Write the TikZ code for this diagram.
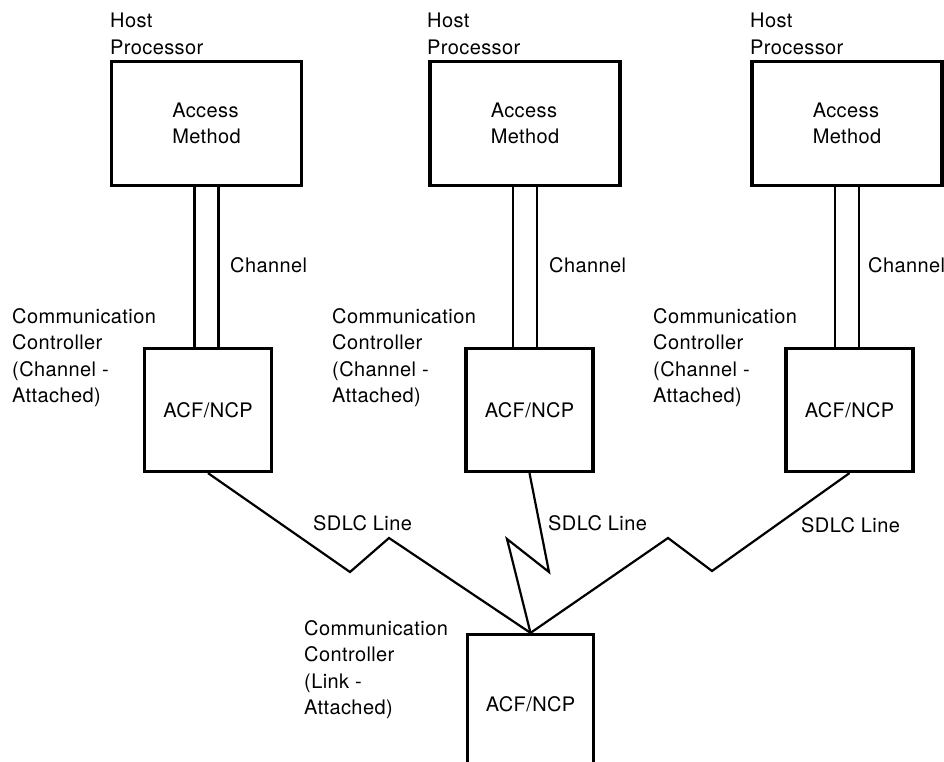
\documentclass[tikz,border=0pt]{standalone}
\usepackage{fontspec}
\setmainfont{TeX Gyre Heros}[LetterSpace=2]
\usetikzlibrary{calc,backgrounds}

\begin{document}
\begin{tikzpicture}[x=1pt,y=-1pt,
  font=\fontsize{20}{26.5}\selectfont,
  hostbox/.style={draw, line width=3.2pt, minimum width=190pt, minimum height=124pt, align=left, inner sep=0pt},
  ncpbox/.style={draw, line width=3.2pt, minimum width=127pt, minimum height=123pt, inner sep=0pt},
  lbl/.style={anchor=north west, align=left, inner sep=0pt},
  sdlc/.style={line width=2.2pt, line join=miter},
  chan/.style={double, double distance=21.5pt, line width=2.3pt}]
\useasboundingbox (0,0) rectangle (944,762);

\node[hostbox] (hostA) at (206.5,123.5) {Access\\Method};
\node[hostbox] (hostB) at (525,123.5) {Access\\Method};
\node[hostbox] (hostC) at (847,123.5) {Access\\Method};
\node[lbl] (hostlblA) at (110,13) {Host\\Processor};
\node[lbl] (hostlblB) at (427,13) {Host\\Processor};
\node[lbl] (hostlblC) at (750,13) {Host\\Processor};

\node[ncpbox] (ncpA) at (208,410) {ACF/NCP};
\node[ncpbox] (ncpB) at (529.5,410) {ACF/NCP};
\node[ncpbox] (ncpC) at (849.5,410) {ACF/NCP};
\node[lbl] (cclblA) at (12,308) {Communication\\Controller\\(Channel -\\Attached)};
\node[lbl] (cclblB) at (332,308) {Communication\\Controller\\(Channel -\\Attached)};
\node[lbl] (cclblC) at (653,308) {Communication\\Controller\\(Channel -\\Attached)};

\begin{scope}[on background layer]
\draw[chan] (hostA.south) -- (hostA.south |- ncpA.north);
\draw[chan] (hostB.south) -- (hostB.south |- ncpB.north);
\draw[chan] (hostC.south) -- (hostC.south |- ncpC.north);
\end{scope}
\node[lbl] (chlblA) at (230,257) {Channel};
\node[lbl] (chlblB) at (549,257) {Channel};
\node[lbl] (chlblC) at (868,257) {Channel};

\node[ncpbox, minimum width=126pt, minimum height=140pt] (link) at (530.5,704.5) {ACF/NCP};
\node[lbl] (linklbl) at (304,620) {Communication\\Controller\\(Link -\\Attached)};

\draw[sdlc] (ncpA.south) -- (350,572) -- (389,538) -- (link.north);
\draw[sdlc] (ncpB.south) -- (549,572) -- (507,539) -- (link.north);
\draw[sdlc] (ncpC.south) -- (712,571) -- (668,538) -- (link.north);
\node[lbl] (sdlclblA) at (313,515) {SDLC Line};
\node[lbl] (sdlclblB) at (548,515) {SDLC Line};
\node[lbl] (sdlclblC) at (801,517) {SDLC Line};
\end{tikzpicture}
\end{document}
